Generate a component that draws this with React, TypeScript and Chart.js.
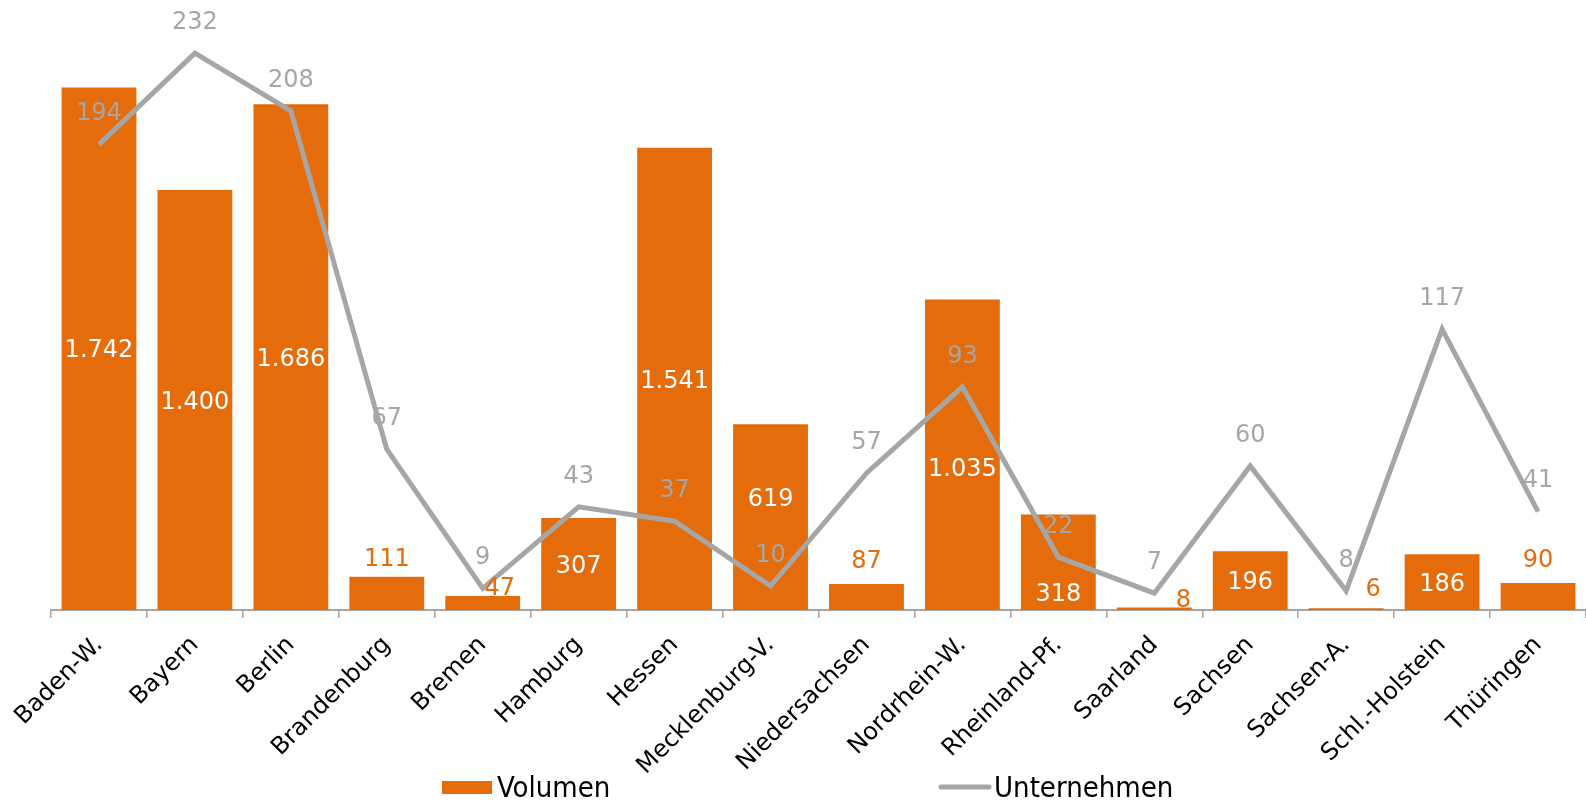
import React, { useEffect, useRef } from "react";
import { Chart, registerables } from "chart.js";

Chart.register(...registerables);

const categories = [
  "Baden-W.", "Bayern", "Berlin", "Brandenburg", "Bremen", "Hamburg", "Hessen",
  "Mecklenburg-V.", "Niedersachsen", "Nordrhein-W.", "Rheinland-Pf.", "Saarland",
  "Sachsen", "Sachsen-A.", "Schl.-Holstein", "Thüringen",
];
const volumen = [1742, 1400, 1686, 111, 47, 307, 1541, 619, 87, 1035, 318, 8, 196, 6, 186, 90];
const unternehmen = [194, 232, 208, 67, 9, 43, 37, 10, 57, 93, 22, 7, 60, 8, 117, 41];

const ORANGE = "#E46C0A";
const GREY = "#A6A6A6";
const FONT = '"DejaVu Sans", Verdana, sans-serif';

// label placement tweaks (style only): index -> [dx, dy]
const barLabelNudge: Record<number, [number, number]> = {
  3: [0, 5],
  4: [17, 15],
  7: [0, -20],
  9: [0, 12],
  10: [0, 30],
  11: [29, 15],
  13: [27, 4],
};

function fmt(n: number): string {
  if (n >= 1000) {
    return `${Math.floor(n / 1000)}.${String(n % 1000).padStart(3, "0")}`;
  }
  return String(n);
}

const valueLabels = {
  id: "valueLabels",
  afterDatasetsDraw(chart: any) {
    const ctx = chart.ctx;
    const size = 24;
    ctx.save();
    ctx.font = `${size}px ${FONT}`;
    ctx.textAlign = "center";
    ctx.textBaseline = "alphabetic";
    const half = size * 0.365;
    const barMeta = chart.getDatasetMeta(0);
    barMeta.data.forEach((el: any, i: number) => {
      const v = volumen[i];
      const p = el.getProps(["x", "y", "base"], true);
      const [dx, dy] = barLabelNudge[i] || [0, 0];
      if (v >= 180) {
        ctx.fillStyle = "#FFFFFF";
        ctx.fillText(fmt(v), p.x + dx, (p.y + p.base) / 2 + half + dy);
      } else {
        ctx.fillStyle = ORANGE;
        ctx.fillText(fmt(v), p.x + dx, p.y - 16 + dy);
      }
    });
    const lineMeta = chart.getDatasetMeta(1);
    lineMeta.data.forEach((el: any, i: number) => {
      const p = el.getProps(["x", "y"], true);
      ctx.fillStyle = GREY;
      ctx.fillText(fmt(unternehmen[i]), p.x, p.y - 33 + half);
    });
    ctx.restore();
  },
};

const customLegend = {
  id: "customLegend",
  afterDraw(chart: any) {
    const ctx = chart.ctx;
    ctx.save();
    ctx.fillStyle = ORANGE;
    ctx.fillRect(442, 781, 50, 13);
    ctx.strokeStyle = GREY;
    ctx.lineWidth = 5;
    ctx.lineCap = "round";
    ctx.beginPath();
    ctx.moveTo(941, 787);
    ctx.lineTo(989, 787);
    ctx.stroke();
    ctx.fillStyle = "#000000";
    ctx.font = `29px "DejaVu Sans Condensed", ${FONT}`;
    ctx.textAlign = "left";
    ctx.textBaseline = "alphabetic";
    ctx.fillText("Volumen", 497, 797);
    ctx.fillText("Unternehmen", 994, 797);
    ctx.restore();
  },
};

export default function App() {
  const canvasRef = useRef<HTMLCanvasElement | null>(null);

  useEffect(() => {
    if (!canvasRef.current) return;
    const chart = new Chart(canvasRef.current, {
      type: "bar",
      data: {
        labels: categories,
        datasets: [
          {
            type: "bar",
            label: "Volumen",
            data: volumen,
            backgroundColor: ORANGE,
            borderWidth: 0,
            yAxisID: "y",
            categoryPercentage: 1,
            barPercentage: 0.78,
            order: 2,
          },
          {
            type: "line",
            label: "Unternehmen",
            data: unternehmen,
            borderColor: GREY,
            backgroundColor: GREY,
            borderWidth: 5,
            pointRadius: 0,
            tension: 0,
            yAxisID: "y1",
            order: 1,
          } as any,
        ],
      },
      options: {
        animation: false,
        responsive: false,
        layout: { padding: { left: 51, top: 10, right: 0, bottom: 0 } },
        plugins: {
          legend: { display: false },
          tooltip: { enabled: false },
        },
        scales: {
          x: {
            type: "category",
            offset: true,
            grid: {
              display: true,
              drawOnChartArea: false,
              offset: true,
              tickLength: 8,
              color: GREY,
              lineWidth: 1.5,
            },
            border: { display: true, color: GREY, width: 2 },
            ticks: {
              autoSkip: false,
              maxRotation: 45,
              minRotation: 45,
              color: "#000000",
              font: { family: FONT, size: 24 },
              padding: 13,
            },
            afterFit: (scale: any) => {
              scale.height = 192;
            },
          },
          y: { display: false, min: 0, max: 2000 },
          y1: { display: false, min: 0, max: 250, position: "right" },
        },
      },
      plugins: [valueLabels, customLegend],
    });
    return () => chart.destroy();
  }, []);

  return (
    <div style={{ position: "absolute", left: 0, top: 0, width: 1586, height: 802, background: "#fff" }}>
      <canvas ref={canvasRef} width={1586} height={802} />
    </div>
  );
}
